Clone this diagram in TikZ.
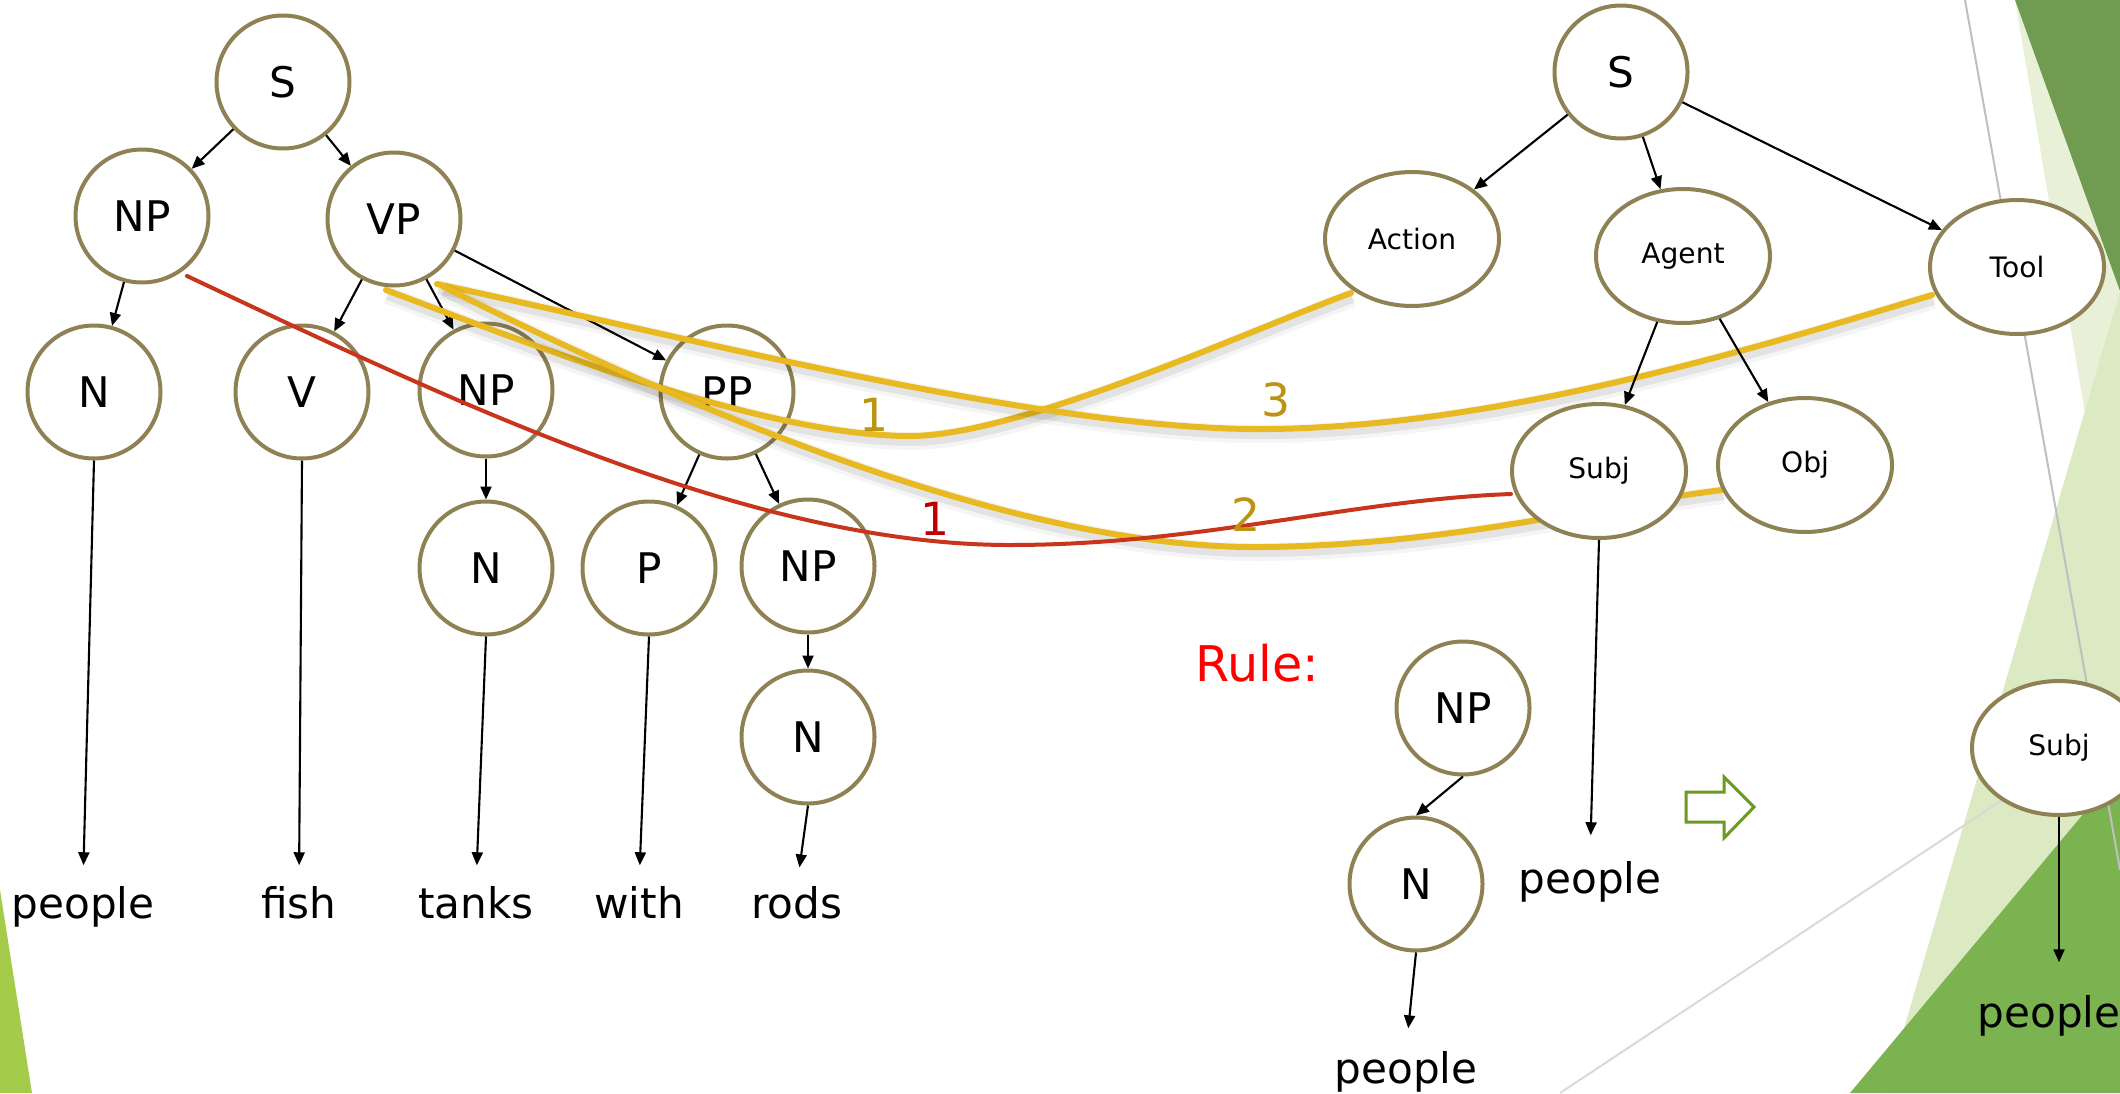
\documentclass[tikz,border=0pt]{standalone}
\usepackage{fontspec}
\setmainfont{DejaVu Sans}
\usetikzlibrary{arrows.meta,shapes.geometric}

\definecolor{rim}{HTML}{8E8154}
\definecolor{inkgold}{HTML}{E8B920}
\definecolor{labgold}{HTML}{BC9412}
\definecolor{inkred}{HTML}{C9341C}
\definecolor{labred}{HTML}{C00000}
\definecolor{hollowgreen}{HTML}{6A9A1F}
\definecolor{pale}{HTML}{E8F1D8}
\definecolor{darkleaf}{HTML}{709B51}
\definecolor{lightleaf}{HTML}{DCEAC3}
\definecolor{brightleaf}{HTML}{7BB350}
\definecolor{lime}{HTML}{A5CB4A}

\begin{document}
\begin{tikzpicture}[x=0.1mm,y=-0.1mm,
  tnode/.style={ellipse, draw=rim, line width=0.4mm, fill=white, inner sep=0pt,
    minimum width=13.3mm, minimum height=13.3mm, font=\fontsize{12}{14}\selectfont},
  rnode/.style={tnode, minimum width=17.4mm, minimum height=13.4mm,
    font=\fontsize{8}{10}\selectfont},
  word/.style={anchor=base, inner sep=0pt, font=\fontsize{12}{14}\selectfont},
  edge/.style={-{Triangle[length=1.3mm,width=1.1mm]}, line width=0.6pt, black},
  leaf/.style={edge, shorten >=#1},
  ink/.style={line width=0.6mm, draw=inkgold, line cap=round,
    preaction={draw=black, draw opacity=0.04, line width=1.8mm,
      transform canvas={xshift=0.15mm, yshift=-0.5mm}},
    preaction={draw=black, draw opacity=0.07, line width=1.0mm,
      transform canvas={xshift=0.15mm, yshift=-0.5mm}}},
  redink/.style={line width=0.4mm, draw=inkred, line cap=round},
  lab/.style={inner sep=0pt, font=\fontsize{13}{15}\selectfont},
]
% page and background decoration
\fill[white] (0,0) rectangle (2120,1093);
\useasboundingbox (0,0) rectangle (2120,1093);
\fill[pale] (2015,0) -- (2120,0) -- (2120,620) -- cycle;
\fill[darkleaf] (2015,0) -- (2120,0) -- (2120,291) -- cycle;
\fill[lightleaf] (2120,291) -- (1885,1093) -- (2120,1093) -- cycle;
\fill[brightleaf] (1850,1093) -- (2120,770) -- (2120,1093) -- cycle;
\fill[lime] (0,890) -- (0,1093) -- (32,1093) -- cycle;
\draw[black!25, line width=0.2mm] (1965,0) -- (2120,870);
\draw[black!15, line width=0.2mm] (1560,1093) -- (2120,722);

% parse tree
\node[tnode] (S1)  at (283,82)  {S};
\node[tnode] (NP1) at (142,216) {NP};
\node[tnode] (VP)  at (394,219) {VP};
\node[tnode] (N1)  at (94,392)  {N};
\node[tnode] (V)   at (302,392) {V};
\node[tnode] (NP2) at (486,390) {NP};
\node[tnode] (PP)  at (727,392) {PP};
\node[tnode] (N2)  at (486,568) {N};
\node[tnode] (P)   at (649,568) {P};
\node[tnode] (NP3) at (808,566) {NP};
\node[tnode] (N3)  at (808,737) {N};

\node[word] (w1) at (83,918)  {people};
\node[word] (w2) at (299,918) {fish};
\node[word] (w3) at (476,918) {tanks};
\node[word] (w4) at (639,918) {with};
\node[word] (w5) at (797,918) {rods};

\draw[edge] (S1) -- (NP1);
\draw[edge] (S1) -- (VP);
\draw[edge] (NP1) -- (N1);
\draw[edge] (VP) -- (V);
\draw[edge] (VP) -- (NP2);
\draw[edge] (VP) -- (PP);
\draw[edge] (NP2) -- (N2);
\draw[edge] (PP) -- (P);
\draw[edge] (PP) -- (NP3);
\draw[edge] (NP3) -- (N3);
\draw[leaf=2mm] (N1.south) -- (w1.north);
\draw[leaf=2mm] (V.south) -- (w2.north);
\draw[leaf=2mm] (N2.south) -- (w3.north);
\draw[leaf=2mm] (P.south) -- (w4.north);
\draw[leaf=1.8mm] (N3.south) -- (w5.north);

% rule
\node[text=red, font=\fontsize{14}{16}\selectfont] (rule) at (1257,663) {Rule:};
\node[tnode] (NPr) at (1463,708) {NP};
\node[tnode] (Nr)  at (1416,884) {N};
\node[word] (w6) at (1406,1083) {people};
\node[word] (w7) at (1590,893)  {people};
\draw[edge] (NPr.south) -- (Nr.north);
\draw[leaf=2.2mm] (Nr.south) -- (w6.north);
\draw[hollowgreen, line width=0.3mm, fill=white, line join=miter]
  (1686,792) -- (1724,792) -- (1724,777) -- (1754,807) -- (1724,838)
  -- (1724,822) -- (1686,822) -- cycle;

% alignment ink
\draw[ink] (386,290) .. controls (520,340) and (760,436) .. (910,436)
  .. controls (1020,436) and (1250,330) .. (1351,293);
\draw[ink] (437,284) .. controls (700,340) and (1050,432) .. (1271,429)
  .. controls (1500,426) and (1750,350) .. (1932,295);
\draw[ink] (442,286) .. controls (650,390) and (1000,550) .. (1263,547)
  .. controls (1450,545) and (1600,505) .. (1722,490);
\draw[redink] (187,276) .. controls (450,400) and (750,545) .. (1010,545)
  .. controls (1200,545) and (1350,500) .. (1511,494);
\node[lab, text=labgold] (c1) at (874,415)  {1};
\node[lab, text=labgold] (c3) at (1276,400) {3};
\node[lab, text=labgold] (c2) at (1246,515) {2};
\node[lab, text=labred]  (r1) at (935,519)  {1};

% semantic frame
\node[tnode] (S2)   at (1621,72)  {S};
\node[rnode] (Act)  at (1412,239) {Action};
\node[rnode] (Agt)  at (1683,256) {Agent};
\node[rnode] (Tool) at (2017,267) {Tool};
\node[rnode] (Subj) at (1599,471) {Subj};
\node[rnode] (Obj)  at (1805,465) {Obj};
\draw[edge] (S2) -- (Act);
\draw[edge] (S2) -- (Agt);
\draw[edge] (S2) -- (Tool);
\draw[edge] (Agt) -- (Subj);
\draw[edge] (Agt) -- (Obj);
\draw[leaf=2.5mm] (Subj.south) -- (w7.north);

% result of the rule
\node[rnode] (Subj2) at (2059,748) {Subj};
\node[word] (w8) at (2049,1027) {people};
\draw[leaf=3.2mm] (Subj2.south) -- (Subj2.south |- w8.north);
\end{tikzpicture}
\end{document}
